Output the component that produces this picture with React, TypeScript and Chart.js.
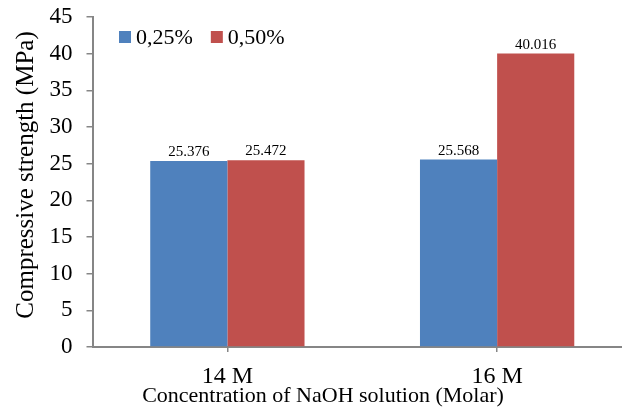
import React, { useEffect, useRef } from "react";
import { Chart, registerables } from "chart.js";

Chart.register(...registerables);

const categories = ["14 M", "16 M"];
const seriesNames = ["0,25%", "0,50%"];
const values025 = [25.376, 25.568];
const values050 = [25.472, 40.016];
const yMin = 0;
const yMax = 45;
const yStep = 5;
const xTitle = "Concentration of NaOH solution (Molar)";
const yTitle = "Compressive strength (MPa)";

const FONT = '"Liberation Serif", "Times New Roman", serif';
const BLUE = "#4F81BD";
const RED = "#C0504D";
const AXIS = "#868686";

const valueLabelPlugin = {
  id: "valueLabels",
  afterDatasetsDraw(chart: any) {
    const ctx = chart.ctx;
    ctx.save();
    ctx.font = `15px ${FONT}`;
    ctx.fillStyle = "#000";
    ctx.textAlign = "center";
    ctx.textBaseline = "alphabetic";
    chart.data.datasets.forEach((ds: any, i: number) => {
      const meta = chart.getDatasetMeta(i);
      meta.data.forEach((bar: any, j: number) => {
        ctx.fillText(Number(ds.data[j]).toFixed(3), bar.x, bar.y - 5);
      });
    });
    ctx.restore();
  },
};

const legendPlugin = {
  id: "insideLegend",
  afterDraw(chart: any) {
    const ctx = chart.ctx;
    const area = chart.chartArea;
    ctx.save();
    ctx.font = `22px ${FONT}`;
    ctx.textBaseline = "middle";
    ctx.textAlign = "left";
    let x = area.left + 26.5;
    const cy = area.top + 20;
    chart.data.datasets.forEach((ds: any) => {
      ctx.fillStyle = ds.backgroundColor;
      ctx.fillRect(x, cy - 6, 12, 12);
      ctx.fillStyle = "#000";
      const tx = x + 17;
      ctx.fillText(ds.label, tx, cy + 1);
      x = tx + ctx.measureText(ds.label).width + 18;
    });
    ctx.restore();
  },
};

const axisTitlePlugin = {
  id: "axisTitles",
  afterDraw(chart: any) {
    const ctx = chart.ctx;
    ctx.save();
    ctx.fillStyle = "#000";
    ctx.textAlign = "center";
    ctx.textBaseline = "alphabetic";
    ctx.font = `22px ${FONT}`;
    ctx.fillText(xTitle, 323, 402);
    ctx.translate(33, 175);
    ctx.rotate(-Math.PI / 2);
    ctx.font = `25px ${FONT}`;
    ctx.fillText(yTitle, 0, 0);
    ctx.restore();
  },
};

export default function App() {
  const ref = useRef<HTMLCanvasElement>(null);
  useEffect(() => {
    const chart = new Chart(ref.current as HTMLCanvasElement, {
      type: "bar",
      data: {
        labels: categories,
        datasets: [
          { label: seriesNames[0], data: values025, backgroundColor: BLUE, barPercentage: 1, categoryPercentage: 0.572 },
          { label: seriesNames[1], data: values050, backgroundColor: RED, barPercentage: 1, categoryPercentage: 0.572 },
        ],
      },
      options: {
        animation: false,
        responsive: true,
        maintainAspectRatio: false,
        layout: { padding: { top: 17, left: 0, right: 0, bottom: 0 } },
        plugins: {
          legend: { display: false },
          tooltip: { enabled: false },
        },
        scales: {
          x: {
            afterFit: (scale: any) => {
              scale.height = 62;
              scale.paddingLeft = 0;
              scale.paddingRight = 0;
            },
            grid: { display: true, drawOnChartArea: false, drawTicks: true, tickLength: 5, offset: false, color: AXIS, lineWidth: 1.5 },
            border: { display: true, color: AXIS, width: 2 },
            ticks: { color: "#000", font: { family: FONT, size: 24 }, padding: 10 },
            title: { display: false },
          },
          y: {
            min: yMin,
            max: yMax,
            afterFit: (scale: any) => {
              scale.width = 92.5;
              scale.paddingTop = 0;
              scale.paddingBottom = 0;
            },
            grid: { display: true, drawOnChartArea: false, drawTicks: true, tickLength: 6, color: AXIS, lineWidth: 1.5 },
            border: { display: true, color: AXIS, width: 2 },
            ticks: { stepSize: yStep, color: "#000", font: { family: FONT, size: 23 }, padding: 14 },
            title: { display: false },
          },
        },
      },
      plugins: [valueLabelPlugin, legendPlugin, axisTitlePlugin],
    });
    return () => chart.destroy();
  }, []);
  return (
    <div style={{ position: "fixed", left: 0, top: 0, width: 622, height: 409, overflow: "hidden", background: "#fff" }}>
      <div style={{ position: "relative", width: 632, height: 409 }}>
        <canvas ref={ref} />
      </div>
    </div>
  );
}
